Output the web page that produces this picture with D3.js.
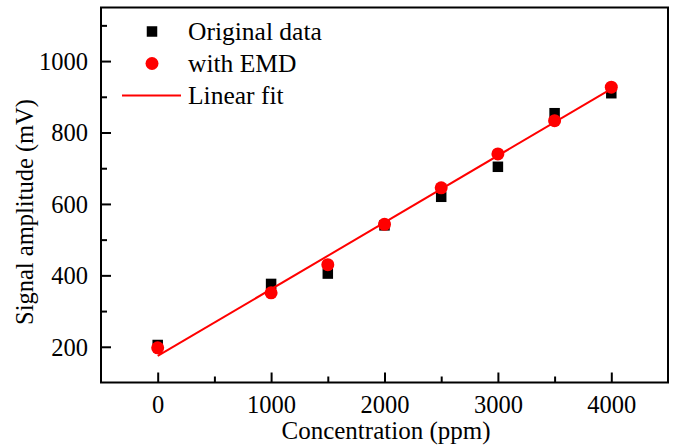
<!DOCTYPE html>
<html>
<head>
<meta charset="utf-8">
<script src="https://cdn.jsdelivr.net/npm/d3@7"></script>
<style>
  html, body { margin: 0; padding: 0; background: #fff; }
  svg { display: block; font-family: "Liberation Serif", "Times New Roman", serif; }
</style>
</head>
<body>
<svg id="chart" width="677" height="445"></svg>
<script>
// Concentration steps (ppm)
const concentration = [0, 1000, 1500, 2000, 2500, 3000, 3500, 4000];
// Signal amplitude of the raw measurements (mV)
const originalData = [205, 376, 405, 540, 620, 704, 854, 910];
// Signal amplitude after EMD processing (mV)
const withEMD = [197, 351, 430, 543, 645, 740, 833, 927];

const xMajorTicks = [0, 1000, 2000, 3000, 4000];
const xMinorTicks = [500, 1500, 2500, 3500];
const yMajorTicks = [200, 400, 600, 800, 1000];
const yMinorTicks = [300, 500, 700, 900, 1100];

const legendLabels = ["Original data", "with EMD", "Linear fit"];

const W = 677, H = 445;
const margin = { left: 101, right: 9, top: 7.5, bottom: 62.5 };
const innerW = W - margin.left - margin.right;
const innerH = H - margin.top - margin.bottom;

const svg = d3.select("#chart");
const g = svg.append("g").attr("transform", `translate(${margin.left},${margin.top})`);

const x = d3.scaleLinear().domain([-500, 4500]).range([0, innerW]);
const y = d3.scaleLinear().domain([100, 1150]).range([innerH, 0]);

// Least-squares line through the EMD-processed points
const n = concentration.length;
const mx = d3.mean(concentration), my = d3.mean(withEMD);
const sxy = d3.sum(concentration, (c, i) => (c - mx) * (withEMD[i] - my));
const sxx = d3.sum(concentration, c => (c - mx) ** 2);
const slope = sxy / sxx, intercept = my - slope * mx;
const fitX = [concentration[0], concentration[n - 1]];

// Axes with inward ticks
const tickFont = 24.5;
function styleAxis(sel) {
  sel.select(".domain").remove();
  sel.selectAll("line").attr("stroke", "#000").attr("stroke-width", 2);
  sel.selectAll("text").attr("font-size", tickFont).attr("fill", "#000")
     .attr("font-family", "Liberation Serif, Times New Roman, serif");
}

const xAxis = g.append("g").attr("transform", `translate(0,${innerH})`)
  .call(d3.axisBottom(x).tickValues(xMajorTicks).tickSize(-10).tickFormat(d3.format("d")));
styleAxis(xAxis);
xAxis.selectAll("text").attr("dy", null).attr("y", 30.5);

const xMinor = g.append("g").attr("transform", `translate(0,${innerH})`)
  .call(d3.axisBottom(x).tickValues(xMinorTicks).tickSize(-6).tickFormat(""));
styleAxis(xMinor);

const yAxis = g.append("g")
  .call(d3.axisLeft(y).tickValues(yMajorTicks).tickSize(-10).tickFormat(d3.format("d")));
styleAxis(yAxis);
yAxis.selectAll("text").attr("x", -13).attr("dy", "0.34em");

const yMinor = g.append("g")
  .call(d3.axisLeft(y).tickValues(yMinorTicks).tickSize(-6).tickFormat(""));
styleAxis(yMinor);

// Frame
g.append("rect").attr("x", 0).attr("y", 0).attr("width", innerW).attr("height", innerH)
  .attr("fill", "none").attr("stroke", "#000").attr("stroke-width", 2);

// Original data: black squares
const sq = 10.5;
g.append("g").selectAll("rect").data(concentration).join("rect")
  .attr("x", d => x(d) - sq / 2)
  .attr("y", (d, i) => y(originalData[i]) - sq / 2)
  .attr("width", sq).attr("height", sq).attr("fill", "#000");

// Linear fit
g.append("line")
  .attr("x1", x(fitX[0])).attr("y1", y(intercept + slope * fitX[0]))
  .attr("x2", x(fitX[1])).attr("y2", y(intercept + slope * fitX[1]))
  .attr("stroke", "#ff0000").attr("stroke-width", 2);

// EMD-processed data: red circles
g.append("g").selectAll("circle").data(concentration).join("circle")
  .attr("cx", d => x(d)).attr("cy", (d, i) => y(withEMD[i]))
  .attr("r", 6.5).attr("fill", "#ff0000");

// Legend
const legend = svg.append("g");
const legendY = [31.5, 63.5, 95.5];
legend.append("rect").attr("x", 152 - sq / 2).attr("y", legendY[0] - sq / 2)
  .attr("width", sq).attr("height", sq).attr("fill", "#000");
legend.append("circle").attr("cx", 152).attr("cy", legendY[1]).attr("r", 6.5).attr("fill", "#ff0000");
legend.append("line").attr("x1", 122).attr("x2", 181).attr("y1", legendY[2]).attr("y2", legendY[2])
  .attr("stroke", "#ff0000").attr("stroke-width", 2);
legend.selectAll("text").data(legendLabels).join("text")
  .attr("x", 188).attr("y", (d, i) => legendY[i] + 8.5)
  .attr("font-size", 25.5).attr("fill", "#000").text(d => d);

// Axis titles
svg.append("text").attr("x", 386).attr("y", 439).attr("text-anchor", "middle")
  .attr("font-size", 25).attr("fill", "#000").text("Concentration (ppm)");
svg.append("text").attr("transform", "translate(33,212) rotate(-90)").attr("text-anchor", "middle")
  .attr("font-size", 24.5).attr("fill", "#000").text("Signal amplitude (mV)");
</script>
</body>
</html>
